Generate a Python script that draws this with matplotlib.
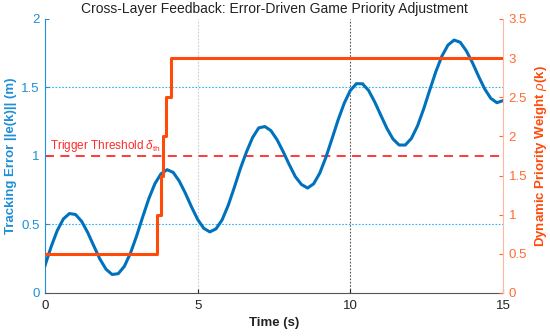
import matplotlib
matplotlib.use('Agg')
import matplotlib.pyplot as plt
import numpy as np

plt.rcParams['font.family'] = ['Liberation Sans', 'DejaVu Sans']
plt.rcParams['mathtext.fontset'] = 'custom'
plt.rcParams['mathtext.rm'] = 'Liberation Sans'
plt.rcParams['mathtext.it'] = 'Liberation Sans:italic'

# tracking error, read every 0.2 s
t = np.arange(76) * 0.2
err = [0.200, 0.337, 0.455, 0.540, 0.580, 0.573, 0.523, 0.441, 0.343, 0.247,
       0.173, 0.135, 0.141, 0.195, 0.291, 0.416, 0.555, 0.688, 0.798, 0.870,
       0.900, 0.880, 0.816, 0.727, 0.628, 0.537, 0.472, 0.446, 0.468, 0.533,
       0.639, 0.770, 0.909, 1.030, 1.135, 1.205, 1.215, 1.185, 1.119, 1.032,
       0.937, 0.849, 0.792, 0.766, 0.797, 0.875, 0.990, 1.125, 1.263, 1.385,
       1.478, 1.528, 1.527, 1.478, 1.394, 1.297, 1.201, 1.123, 1.080, 1.080,
       1.128, 1.219, 1.342, 1.480, 1.615, 1.729, 1.810, 1.846, 1.830, 1.767,
       1.681, 1.582, 1.490, 1.421, 1.389, 1.404]

# priority weight steps
t_rho = [0, 3.68, 3.79, 3.87, 3.96, 4.12, 15]
rho = [0.5, 1.0, 1.5, 2.0, 2.5, 3.0, 3.0]

threshold = 1.0

blue = '#0072BD'
blue_ax = '#1F8FD6'
orange = '#FF4A0A'

fig = plt.figure(figsize=(5.5, 3.36), dpi=100)
ax = fig.add_axes([0.0818, 0.128, 0.9145 - 0.0818, 0.9435 - 0.128])
ax2 = ax.twinx()

# grid-like reference lines
for y in [0.5, 1.5]:
    ax.axhline(y, color='#2BB5EE', lw=0.8, ls=(0, (1.5, 1.5)), zorder=1)
ax.axvline(5, color='#cccccc', lw=0.8, ls=(0, (1.5, 1.5)), zorder=1)
ax.axvline(10, color='#555555', lw=0.8, ls=(0, (1.5, 1.5)), zorder=1)
ax.axhline(threshold, color='#FF2A2A', lw=1.3, ls=(0, (5, 3.5)), zorder=2)
ax.text(0.15, 1.05, r'Trigger Threshold $\delta_{\rm th}$', color='#FF2A2A', fontsize=8.5)

ax.plot(t, err, color=blue, lw=2.2, zorder=3, solid_joinstyle='round')
ax2.plot(t_rho, rho, color=orange, lw=2.2, drawstyle='steps-post', zorder=3)

ax.set_xlim(0, 15)
ax.set_ylim(0, 2)
ax2.set_ylim(0, 3.5)
ax.set_xticks([0, 5, 10, 15])
ax.set_yticks([0, 0.5, 1, 1.5, 2])
ax.set_yticklabels(['0', '0.5', '1', '1.5', '2'])
ax2.set_yticks([0, 0.5, 1, 1.5, 2, 2.5, 3, 3.5])
ax2.set_yticklabels(['0', '0.5', '1', '1.5', '2', '2.5', '3', '3.5'])

for a in (ax, ax2):
    a.spines['top'].set_visible(False)
ax.spines['right'].set_visible(False)
ax.spines['left'].set_color(blue_ax)
ax.spines['bottom'].set_color('#555555')
ax2.spines['left'].set_visible(False)
ax2.spines['bottom'].set_visible(False)
ax2.spines['right'].set_color('#FFB8A0')

ax.tick_params(axis='x', direction='in', length=3, labelsize=9.5, colors='#222222', pad=5)
ax.tick_params(axis='y', direction='in', length=3, labelsize=9.5, colors=blue_ax, pad=4)
ax2.tick_params(axis='y', direction='in', length=3, labelsize=9.5, colors='#FF6A30', pad=4)

ax.set_xlabel('Time (s)', fontsize=9.5, fontweight='bold', color='#222222', labelpad=4)
ax.set_ylabel('Tracking Error ||e(k)|| (m)', fontsize=9.5, fontweight='bold', color=blue_ax, labelpad=3)
ax2.set_ylabel(r'Dynamic Priority Weight $\rho$(k)', fontsize=9.5, fontweight='bold', color=orange, labelpad=4)
ax.set_title('Cross-Layer Feedback: Error-Driven Game Priority Adjustment', fontsize=10, color='#222222', pad=4)

fig.savefig('out.png', dpi=100)
